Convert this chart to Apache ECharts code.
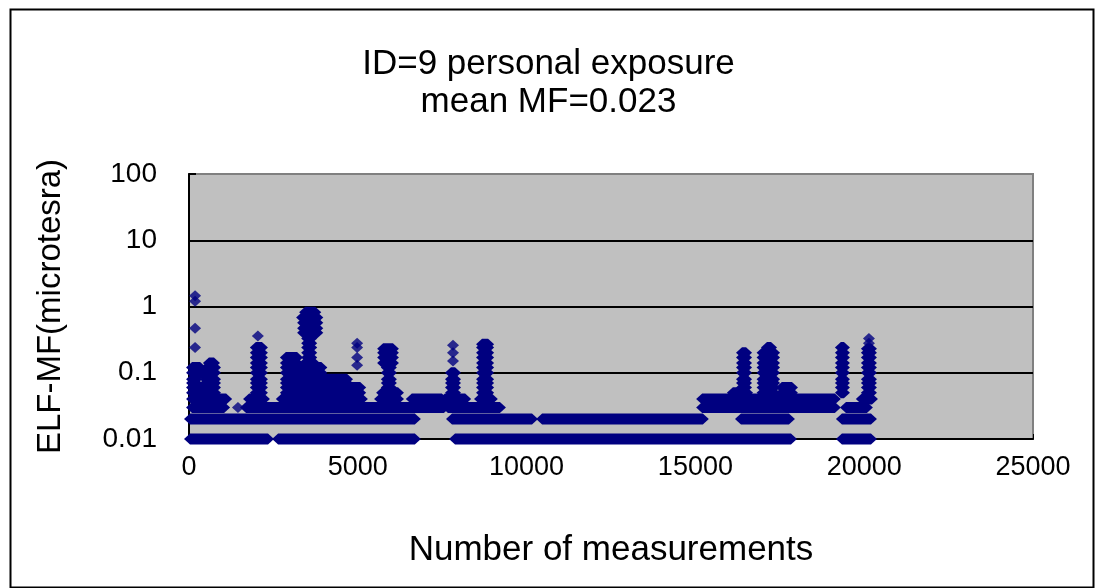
<!DOCTYPE html>
<html>
<head>
<meta charset="utf-8">
<script src="https://cdn.jsdelivr.net/npm/echarts@6/dist/echarts.min.js"></script>
<style>
  html, body { margin: 0; padding: 0; background: #fff; }
  #chart { width: 1097px; height: 588px; }
</style>
</head>
<body>
<div id="chart"></div>
<script>
// ---- Data ----
// Runs of consecutive measurements that stay at one reading: [firstIndex, lastIndex, microtesla]
const baseRuns = [
  [30, 2340, 0.01], [2640, 6690, 0.01], [7880, 17830, 0.01], [19340, 20200, 0.01],
  [30, 6690, 0.02], [7790, 10160, 0.02], [10460, 15220, 0.02], [16350, 17770, 0.02], [19340, 20200, 0.02]
];
const lowRuns = [
  [90, 1040, 0.03], [1690, 7550, 0.03], [7670, 9210, 0.03], [15200, 19130, 0.03], [19460, 20080, 0.03],
  [90, 1100, 0.04], [1780, 2220, 0.04], [2750, 5120, 0.04], [5660, 6190, 0.04], [6600, 7490, 0.04],
  [7580, 8180, 0.04], [8620, 8970, 0.04], [15200, 19130, 0.04], [19930, 20230, 0.04],
  [90, 770, 0.05], [1980, 2160, 0.05], [2870, 5070, 0.05], [5720, 6190, 0.05], [7760, 7880, 0.05],
  [8680, 8860, 0.05], [16110, 16530, 0.05], [16990, 17330, 0.05], [17560, 17860, 0.05],
  [19310, 19400, 0.05], [20080, 20200, 0.05]
];
const leftClusterRuns = [
  [90, 770, 0.06], [90, 210, 0.07], [500, 770, 0.07], [90, 210, 0.08], [500, 770, 0.08],
  [90, 770, 0.1], [90, 330, 0.12], [530, 770, 0.12], [590, 740, 0.14],
  [1980, 2160, 0.06], [1980, 2160, 0.07], [1980, 2160, 0.08], [1980, 2160, 0.1], [1980, 2160, 0.12],
  [1980, 2160, 0.14], [1980, 2160, 0.17], [1980, 2160, 0.2], [1980, 2160, 0.24],
  [2870, 5070, 0.06], [2870, 4680, 0.07], [2870, 4680, 0.08], [2870, 3920, 0.1], [2870, 3920, 0.12],
  [2870, 3200, 0.14], [3440, 3700, 0.14], [2870, 3200, 0.17], [3500, 3620, 0.17],
  [3500, 3620, 0.2], [3500, 3620, 0.24], [3500, 3620, 0.28], [3500, 3620, 0.33],
  [3380, 3800, 0.4], [3380, 3800, 0.47], [3380, 3800, 0.57], [3350, 3800, 0.68], [3440, 3740, 0.82],
  [5860, 5980, 0.06], [5860, 5980, 0.07], [5860, 5980, 0.08], [5860, 5980, 0.1], [5860, 5980, 0.12],
  [5750, 6040, 0.14], [5750, 6040, 0.17], [5750, 6040, 0.2], [5750, 6040, 0.23]
];
const midRuns = [
  [7760, 7880, 0.06], [7760, 7880, 0.07], [7760, 7880, 0.08], [7760, 7880, 0.1],
  [8680, 8860, 0.06], [8680, 8860, 0.07], [8680, 8860, 0.08], [8680, 8860, 0.1], [8680, 8860, 0.12],
  [8680, 8860, 0.14], [8680, 8860, 0.17], [8680, 8860, 0.2], [8680, 8860, 0.24], [8680, 8860, 0.27]
];
const rightRuns = [
  [16380, 16500, 0.06], [16380, 16500, 0.07], [16380, 16500, 0.08], [16380, 16500, 0.1],
  [16380, 16500, 0.12], [16380, 16500, 0.14], [16380, 16500, 0.17], [16380, 16500, 0.2],
  [16990, 17330, 0.06], [16990, 17330, 0.07], [16990, 17330, 0.08], [16990, 17330, 0.1],
  [16990, 17330, 0.12], [16990, 17330, 0.14], [16990, 17330, 0.17], [16990, 17330, 0.2], [17120, 17240, 0.24],
  [17560, 17860, 0.06],
  [19310, 19400, 0.06], [19310, 19400, 0.07], [19310, 19400, 0.08], [19310, 19400, 0.1], [19310, 19400, 0.12],
  [19310, 19400, 0.14], [19310, 19400, 0.17], [19310, 19400, 0.2], [19310, 19400, 0.24],
  [20080, 20200, 0.06], [20080, 20200, 0.07], [20080, 20200, 0.08], [20080, 20200, 0.1], [20080, 20200, 0.12],
  [20080, 20200, 0.14], [20080, 20200, 0.17], [20080, 20200, 0.2], [20080, 20200, 0.23]
];
// Isolated single readings: [index, microtesla]
const singlePoints = [
  [180, 1.45], [180, 1.2], [180, 0.47], [180, 0.24], [1450, 0.03], [2040, 0.36],
  [4980, 0.28], [4980, 0.24], [4980, 0.17], [4980, 0.13],
  [7820, 0.26], [7820, 0.2], [7820, 0.15],
  [20140, 0.33], [20140, 0.28]
];
const yTickLabels = ['0.01', '0.1', '1', '10', '100'];
const titleLines = ['ID=9 personal exposure', 'mean MF=0.023'];
const xName = 'Number of measurements';
const yName = 'ELF-MF(microtesra)';

// ---- Chart ----
const FONT = '"Liberation Sans", Arial, sans-serif';
const NAVY = '#000080';
const chart = echarts.init(document.getElementById('chart'), null, { renderer: 'canvas' });
const allRuns = [].concat(baseRuns, lowRuns, leftClusterRuns, midRuns, rightRuns);

const option = {
  animation: false,
  backgroundColor: '#ffffff',
  title: {
    text: titleLines.join('\n'),
    left: 'center',
    top: 40,
    textStyle: { fontFamily: FONT, fontSize: 35, fontWeight: 'normal', color: '#000', lineHeight: 38 }
  },
  graphic: [{
    type: 'rect', left: 8, top: 7, silent: true,
    shape: { width: 1083, height: 578 },
    style: { fill: 'none', stroke: '#000', lineWidth: 2 }
  }],
  grid: {
    left: 189, right: 64, top: 174, bottom: 149,
    show: true, backgroundColor: '#c0c0c0', borderColor: '#808080', borderWidth: 2
  },
  xAxis: {
    type: 'value', min: 0, max: 25000, interval: 5000,
    name: xName, nameLocation: 'middle', nameGap: 94,
    nameTextStyle: { fontFamily: FONT, fontSize: 35, color: '#000' },
    axisLine: { show: true, onZero: false, lineStyle: { color: '#000', width: 2 } },
    axisTick: { show: true, inside: true, length: 5, lineStyle: { color: '#000', width: 1 } },
    axisLabel: { formatter: v => String(v), fontFamily: FONT, fontSize: 27, color: '#000', margin: 15 },
    splitLine: { show: false }
  },
  yAxis: {
    type: 'log', logBase: 10, min: 0.01, max: 100,
    name: yName, nameLocation: 'middle', nameRotate: 90, nameGap: 122,
    nameTextStyle: { fontFamily: FONT, fontSize: 33, color: '#000' },
    axisLine: { show: true, onZero: false, lineStyle: { color: '#000', width: 2 } },
    axisTick: { show: true, inside: true, length: 7, lineStyle: { color: '#000', width: 2 } },
    axisLabel: {
      fontFamily: FONT, fontSize: 28, color: '#000', margin: 32,
      formatter: v => yTickLabels[Math.round(Math.log10(v)) + 2]
    },
    splitLine: { show: true, showMinLine: false, showMaxLine: false, lineStyle: { color: '#000', width: 2 } }
  },
  series: [
    {
      type: 'custom',
      name: 'runs',
      coordinateSystem: 'cartesian2d',
      encode: { x: [0, 1], y: 2 },
      data: allRuns,
      renderItem: function (params, api) {
        const a = api.coord([api.value(0), api.value(2)]);
        const b = api.coord([api.value(1), api.value(2)]);
        const hw = 6, hh = 5.5;
        return {
          type: 'polygon',
          shape: { points: [[a[0] - hw, a[1]], [a[0], a[1] - hh], [b[0], b[1] - hh], [b[0] + hw, b[1]], [b[0], b[1] + hh], [a[0], a[1] + hh]] },
          style: { fill: NAVY }
        };
      }
    },
    {
      type: 'scatter',
      name: 'single',
      symbol: 'diamond',
      symbolSize: [12, 11],
      itemStyle: { color: NAVY },
      data: singlePoints
    }
  ]
};
chart.setOption(option);
</script>
</body>
</html>
